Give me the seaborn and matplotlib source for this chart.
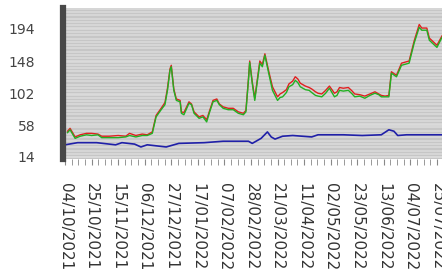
import pandas as pd
import matplotlib.pyplot as plt
from matplotlib.ticker import MultipleLocator
import seaborn as sns

start = pd.Timestamp('2021-10-04')

# price series: days after start, close (green) and high (red)
price_days = [2, 4, 8, 12, 17, 21, 26, 29, 35, 42, 48, 51, 56, 61, 65, 69, 72, 76, 79, 81,
              83, 84, 86, 88, 91, 92, 94, 98, 100, 102, 106, 109, 112, 114, 117, 120, 122, 125, 129, 133,
              137, 141, 143, 145, 146, 148, 150, 154, 156, 158, 161, 164, 168, 170, 172, 175, 177, 180, 182, 184,
              186, 190, 193, 195, 198, 200, 203, 206, 209, 211, 213, 215, 217, 220, 224, 227, 229, 233, 237, 241,
              245, 248, 250, 253, 256, 258, 262, 266, 272, 276, 280, 282, 286, 288, 294, 298]
price_close = [48, 52, 40, 43, 45, 44, 45, 41, 41, 41, 42, 44, 42, 44, 44, 47, 70, 80, 87, 107,
               135, 140, 107, 93, 91, 75, 73, 89, 87, 75, 68, 70, 63, 75, 91, 93, 87, 82, 80, 80,
               75, 73, 77, 121, 146, 117, 93, 145, 140, 156, 131, 107, 93, 97, 98, 104, 112, 115, 121, 118,
               112, 108, 107, 104, 100, 99, 98, 103, 110, 104, 98, 100, 107, 106, 107, 102, 98, 99, 96, 100,
               103, 101, 98, 98, 98, 131, 126, 142, 145, 173, 195, 191, 191, 177, 167, 181]
price_high = [50, 54, 42, 45, 47, 47, 46, 43, 43, 44, 43, 47, 44, 46, 45, 49, 72, 82, 90, 110,
              137, 142, 109, 95, 93, 77, 76, 91, 88, 77, 70, 72, 66, 77, 93, 95, 88, 84, 82, 82,
              77, 75, 79, 123, 148, 119, 96, 148, 143, 158, 134, 112, 98, 102, 104, 108, 116, 120, 126, 123,
              117, 113, 111, 109, 105, 103, 102, 107, 113, 108, 103, 105, 111, 110, 111, 106, 102, 101, 99, 102,
              105, 102, 100, 99, 100, 133, 128, 145, 148, 176, 199, 194, 194, 180, 170, 183]

# lower series (blue)
low_days = [0, 10, 25, 40, 45, 55, 60, 65, 80, 90, 110, 125, 145, 148, 155, 160, 163, 166, 172, 180,
            195, 200, 220, 235, 250, 256, 260, 263, 270, 301]
low_vals = [31, 34, 34, 31, 34, 32, 28, 31, 28, 33, 34, 36, 36, 33, 40, 49, 42, 39, 43, 44,
            42, 45, 45, 44, 45, 52, 50, 44, 45, 45]

y_ticks = [14, 58, 102, 148, 194]

price = pd.DataFrame({'date': start + pd.to_timedelta(price_days, unit='D'),
                      'close': price_close, 'high': price_high})
low = pd.DataFrame({'date': start + pd.to_timedelta(low_days, unit='D'), 'value': low_vals})

plt.rcParams['savefig.bbox'] = 'standard'
fig = plt.figure(figsize=(4.42, 2.80), dpi=100)
ax = fig.add_axes([63 / 442, 1 - 159 / 280, 1 - 63 / 442, 151 / 280])
ax.set_facecolor('#c6c6c6')

sns.lineplot(data=price, x='date', y='high', ax=ax, color='#e02020', linewidth=1.0)
sns.lineplot(data=price, x='date', y='close', ax=ax, color='#22b022', linewidth=1.0)
sns.lineplot(data=low, x='date', y='value', ax=ax, color='#2020a8', linewidth=1.2)

ax.set_yticks(y_ticks)
ax.set_yticklabels([str(v) for v in y_ticks])
ax.yaxis.set_minor_locator(MultipleLocator(4.6))
ax.grid(which='minor', axis='y', color='#dcdcdc', linewidth=1.1)
ax.grid(which='major', axis='y', color='#dcdcdc', linewidth=1.1)
ax.set_axisbelow(True)

# date labels every 3 weeks, small ticks four per label step
label_dates = pd.date_range(start, periods=15, freq='21D')
ax.set_xticks(label_dates)
ax.set_xticklabels([d.strftime('%d/%m/%Y') for d in label_dates], rotation=-90,
                   fontsize=11, color='#333333', va='top', ha='center')
ax.set_xticks(pd.date_range(start, periods=57, freq='126h'), minor=True)
ax.tick_params(axis='x', which='both', length=4, color='#888888', pad=13, direction='out')
ax.tick_params(axis='y', length=0, pad=20, labelsize=10, labelcolor='#444444')

# limits last, set_xticks can widen them
ax.set_ylim(11.2, 222)
ax.set_xlim(start - pd.Timedelta(hours=38), start + pd.Timedelta(days=298))

for side in ['top', 'right', 'bottom']:
    ax.spines[side].set_visible(False)
ax.spines['left'].set_color('#484848')
ax.spines['left'].set_linewidth(4.5)

ax.set_xlabel('')
ax.set_ylabel('')
fig.savefig('out.png', dpi=100, bbox_inches=None)
